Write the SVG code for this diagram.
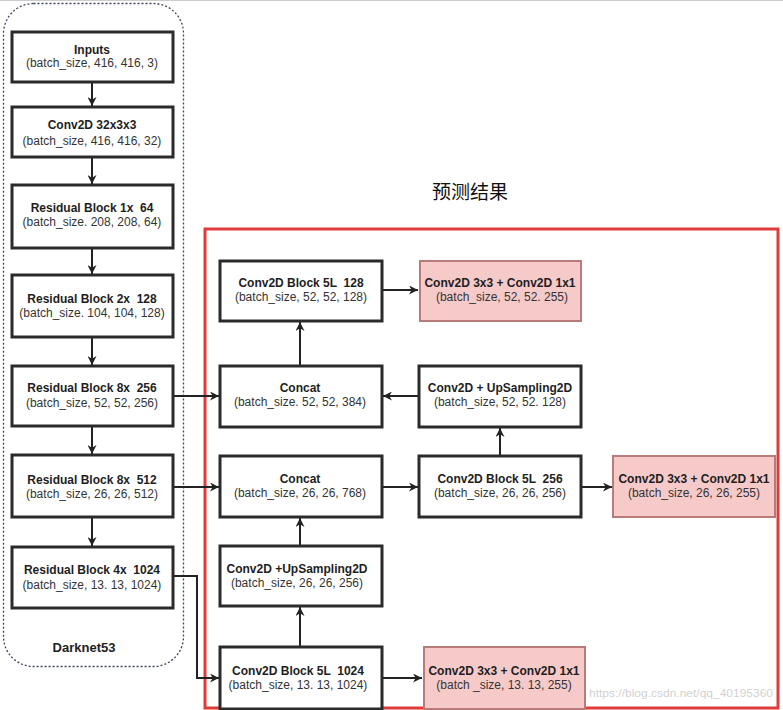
<svg xmlns="http://www.w3.org/2000/svg" width="783" height="710" viewBox="0 0 783 710">
<defs>
<marker id="ah" viewBox="0 0 10 10" refX="10" refY="5" markerWidth="9" markerHeight="9" markerUnits="userSpaceOnUse" orient="auto">
<path d="M0,0 L10,5 L0,10 L3,5 Z" fill="#222"/>
</marker>
<style>
.box{fill:#fff;stroke:#2b2b2b;stroke-width:3}
.pink{fill:#f7caca;stroke:#b97a7a;stroke-width:2}
.t{font-family:"Liberation Sans",Arial,sans-serif;font-size:12px;font-weight:bold;fill:#1e1e1e;text-anchor:middle;white-space:pre}
.s{font-family:"Liberation Sans",Arial,sans-serif;font-size:12px;fill:#333;text-anchor:middle;white-space:pre}
.c{fill:none;stroke:#222;stroke-width:2;marker-end:url(#ah)}
</style>
</defs>
<rect x="0" y="0" width="783" height="710" fill="#fff"/>
<line x1="0" y1="0.5" x2="783" y2="0.5" stroke="#ccc" stroke-width="1"/>
<rect x="3.5" y="3.5" width="180" height="663" rx="30" ry="30" fill="none" stroke="#3c4658" stroke-width="1.3" stroke-dasharray="2 2"/>
<text x="84" y="652" class="t" style="font-size:13px">Darknet53</text>
<rect x="205" y="229" width="573" height="479" fill="none" stroke="#e03b3b" stroke-width="3"/>
<text x="470" y="199" font-family="'Noto Sans CJK SC',sans-serif" font-size="19" fill="#111" text-anchor="middle">预测结果</text>

<g id="connectors">
<line class="c" x1="92" y1="82" x2="92" y2="106"/>
<line class="c" x1="92" y1="157" x2="92" y2="184"/>
<line class="c" x1="92" y1="248" x2="92" y2="274"/>
<line class="c" x1="92" y1="337" x2="92" y2="365"/>
<line class="c" x1="92" y1="426" x2="92" y2="454"/>
<line class="c" x1="92" y1="517" x2="92" y2="546"/>
<line class="c" x1="173" y1="396" x2="219" y2="396"/>
<line class="c" x1="173" y1="487" x2="219" y2="487"/>
<polyline class="c" points="173,576 197,576 197,678 219,678"/>
<line class="c" x1="300" y1="647" x2="300" y2="607"/>
<line class="c" x1="300" y1="546" x2="300" y2="518"/>
<line class="c" x1="382" y1="487" x2="418" y2="487"/>
<line class="c" x1="581" y1="487" x2="612" y2="487"/>
<line class="c" x1="500" y1="456" x2="500" y2="428"/>
<line class="c" x1="419" y1="396" x2="383" y2="396"/>
<line class="c" x1="300" y1="366" x2="300" y2="322"/>
<line class="c" x1="382" y1="290" x2="418" y2="290"/>
<line class="c" x1="382" y1="678" x2="422" y2="678"/>
</g>

<g id="inputs"><rect class="box" x="12" y="32" width="161" height="50"/><text class="t" x="92" y="54">Inputs</text><text class="s" x="92" y="67">(batch_size, 416, 416, 3)</text></g>
<g id="conv2d32"><rect class="box" x="12" y="107" width="161" height="50"/><text class="t" x="92" y="129">Conv2D 32x3x3</text><text class="s" x="92" y="145">(batch_size, 416, 416, 32)</text></g>
<g id="res1"><rect class="box" x="12" y="185" width="161" height="63"/><text class="t" x="92" y="212">Residual Block 1x  64</text><text class="s" x="92" y="226">(batch_size. 208, 208, 64)</text></g>
<g id="res2"><rect class="box" x="12" y="275" width="161" height="62"/><text class="t" x="92" y="303">Residual Block 2x  128</text><text class="s" x="92" y="317">(batch_size. 104, 104, 128)</text></g>
<g id="res8a"><rect class="box" x="12" y="366" width="161" height="60"/><text class="t" x="92" y="392">Residual Block 8x  256</text><text class="s" x="92" y="407">(batch_size, 52, 52, 256)</text></g>
<g id="res8b"><rect class="box" x="12" y="455" width="161" height="62"/><text class="t" x="92" y="484">Residual Block 8x  512</text><text class="s" x="92" y="498">(batch_size, 26, 26, 512)</text></g>
<g id="res4"><rect class="box" x="12" y="547" width="161" height="61"/><text class="t" x="92" y="574">Residual Block 4x  1024</text><text class="s" x="92" y="589">(batch_size, 13. 13, 1024)</text></g>

<g id="block128"><rect class="box" x="220" y="261" width="162" height="60"/><text class="t" x="301" y="287">Conv2D Block 5L  128</text><text class="s" x="301" y="301">(batch_size, 52, 52, 128)</text></g>
<g id="out52"><rect class="pink" x="420" y="261" width="161" height="60"/><text class="t" x="500" y="287">Conv2D 3x3 + Conv2D 1x1</text><text class="s" x="502" y="301">(batch_size, 52, 52. 255)</text></g>
<g id="concat384"><rect class="box" x="220" y="366" width="162" height="61"/><text class="t" x="300" y="392">Concat</text><text class="s" x="300" y="406">(batch_size. 52, 52, 384)</text></g>
<g id="up128"><rect class="box" x="419" y="366" width="162" height="61"/><text class="t" x="500" y="392">Conv2D + UpSampling2D</text><text class="s" x="500" y="406">(batch_size, 52, 52. 128)</text></g>
<g id="concat768"><rect class="box" x="220" y="456" width="162" height="61"/><text class="t" x="300" y="483">Concat</text><text class="s" x="300" y="497">(batch_size, 26, 26, 768)</text></g>
<g id="block256"><rect class="box" x="419" y="456" width="162" height="61"/><text class="t" x="500" y="483">Conv2D Block 5L  256</text><text class="s" x="500" y="497">(batch_size, 26, 26, 256)</text></g>
<g id="out26"><rect class="pink" x="613" y="456" width="162" height="61"/><text class="t" x="694" y="483">Conv2D 3x3 + Conv2D 1x1</text><text class="s" x="694" y="497">(batch_size, 26, 26, 255)</text></g>
<g id="up256"><rect class="box" x="220" y="546" width="162" height="60"/><text class="t" x="297" y="573">Conv2D +UpSampling2D</text><text class="s" x="297" y="587">(batch_size, 26, 26, 256)</text></g>
<g id="block1024"><rect class="box" x="220" y="647" width="162" height="62"/><text class="t" x="298" y="675">Conv2D Block 5L  1024</text><text class="s" x="298" y="689">(batch_size, 13. 13, 1024)</text></g>
<g id="out13"><rect class="pink" x="424" y="647" width="161" height="62"/><text class="t" x="504" y="675">Conv2D 3x3 + Conv2D 1x1</text><text class="s" x="504" y="689">(batch _size, 13. 13, 255)</text></g>

<text x="589" y="697" font-family="'Liberation Sans',Arial,sans-serif" font-size="11.5" fill="#bbb" fill-opacity="0.7" textLength="184" lengthAdjust="spacingAndGlyphs">https://blog.csdn.net/qq_40195360</text>
</svg>
